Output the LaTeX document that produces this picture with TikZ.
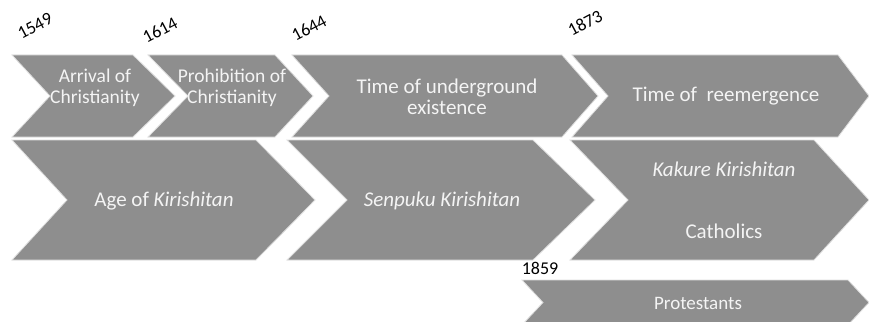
\documentclass[tikz,border=0pt]{standalone}
\usepackage{fontspec}
\setmainfont{Carlito}
\definecolor{chevfill}{RGB}{142,142,142}
\definecolor{chevedge}{RGB}{222,222,222}
\definecolor{chevtext}{RGB}{244,244,244}
\tikzset{
  chevshape/.style={fill=chevfill, draw=chevedge, line width=0.8pt, line join=miter},
  chevlabel/.style={text=chevtext, font=\fontsize{21}{21}\selectfont, align=center, inner sep=0pt},
  smalllabel/.style={chevlabel, font=\fontsize{19.5}{21}\selectfont},
  protlabel/.style={chevlabel, font=\fontsize{19}{21}\selectfont},
  yearlabel/.style={text=black, font=\fontsize{18}{19}\selectfont, inner sep=0pt}
}
% #1 left x, #2 right x, #3 top y, #4 bottom y, #5 notch depth, #6 tip depth
\newcommand{\mychev}[6]{%
  \path[chevshape] (#1,#3) -- (#2,#3) -- ({#2+#6},{(#3+#4)/2}) -- (#2,#4) -- (#1,#4) -- ({#1+#5},{(#3+#4)/2}) -- cycle;}
\begin{document}
\begin{tikzpicture}[x=1pt, y=-1pt]
\useasboundingbox (0,0) rectangle (869,321);
\clip (0,0) rectangle (869,321);
% top row
\mychev{12}{133}{55}{137}{38}{42}
\mychev{148}{275}{55}{137}{40}{38}
\mychev{292}{562}{55}{137}{37}{36}
\mychev{572}{838}{55}{137}{36}{31}
% bottom row
\mychev{12}{256}{140}{260}{55}{59}
\mychev{287}{533}{140}{260}{60}{62}
\mychev{570}{814}{140}{260}{58}{55}
% protestants
\mychev{522}{848}{280}{325}{21}{21}
% labels
\node[smalllabel] (arrival) at (95,88) {Arrival of\\Christianity};
\node[smalllabel] (prohib) at (232,88) {Prohibition of\\Christianity};
\node[chevlabel] (under) at (447,97) {Time of underground\\existence};
\node[chevlabel] (reem) at (726,96) {Time of\ \ reemergence};
\node[chevlabel] (agek) at (164,201) {Age of \textit{Kirishitan}};
\node[chevlabel] (senpuku) at (442,201) {\textit{Senpuku Kirishitan}};
\node[chevlabel] (kakure) at (724,169) {\textit{Kakure Kirishitan}};
\node[chevlabel] (cath) at (724,231) {Catholics};
\node[protlabel] (prot) at (698,303) {Protestants};
% years
\node[yearlabel, rotate=28] (y1549) at (35,26) {1549};
\node[yearlabel, rotate=28] (y1614) at (160,30) {1614};
\node[yearlabel, rotate=28] (y1644) at (309,28) {1644};
\node[yearlabel, rotate=28] (y1873) at (585,23) {1873};
\node[yearlabel] (y1859) at (540,268) {1859};
\end{tikzpicture}
\end{document}
